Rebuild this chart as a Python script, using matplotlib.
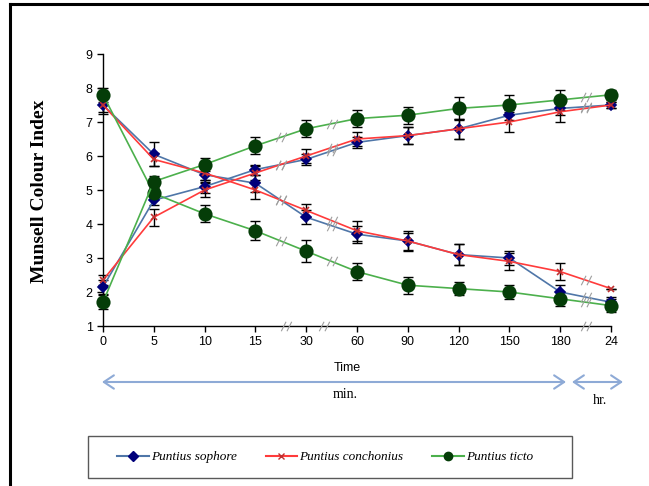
import numpy as np
import matplotlib as mpl
mpl.use('Agg')
import matplotlib.pyplot as plt
from matplotlib.lines import Line2D
from matplotlib.patches import Rectangle, FancyArrowPatch
from matplotlib.path import Path

mpl.rcParams['font.family'] = ['Liberation Sans', 'DejaVu Sans']

time_labels = ['0', '5', '10', '15', '30', '60', '90', '120', '150', '180', '24']

# each species was measured going down (pale -> dark) and up (dark -> pale)
sophore_down = [7.5, 6.05, 5.45, 5.2, 4.2, 3.7, 3.5, 3.1, 3.0, 2.0, 1.7]
sophore_down_err = [0.25, 0.35, 0.2, 0.25, 0.2, 0.25, 0.25, 0.3, 0.2, 0.2, 0.15]
sophore_up = [2.15, 4.7, 5.1, 5.6, 5.9, 6.4, 6.6, 6.8, 7.2, 7.4, 7.5]
sophore_up_err = [0.2, 0.15, 0.2, 0.15, 0.15, 0.15, 0.25, 0.3, 0.15, 0.2, 0.1]

conch_down = [7.5, 5.9, 5.5, 5.0, 4.4, 3.8, 3.5, 3.1, 2.9, 2.6, 2.1]
conch_down_err = [0.2, 0.2, 0.2, 0.25, 0.2, 0.3, 0.3, 0.3, 0.25, 0.25, 0.0]
conch_up = [2.35, 4.2, 5.0, 5.5, 6.0, 6.5, 6.6, 6.8, 7.0, 7.3, 7.5]
conch_up_err = [0.15, 0.25, 0.2, 0.2, 0.2, 0.2, 0.25, 0.3, 0.3, 0.3, 0.1]

ticto_down = [7.8, 4.9, 4.3, 3.8, 3.2, 2.6, 2.2, 2.1, 2.0, 1.8, 1.6]
ticto_down_err = [0.2, 0.15, 0.25, 0.28, 0.33, 0.25, 0.25, 0.2, 0.2, 0.2, 0.2]
ticto_up = [1.7, 5.25, 5.75, 6.3, 6.8, 7.1, 7.2, 7.4, 7.5, 7.65, 7.8]
ticto_up_err = [0.2, 0.15, 0.2, 0.25, 0.25, 0.25, 0.25, 0.33, 0.3, 0.3, 0.15]

x = np.arange(len(time_labels))

fig = plt.figure(figsize=(6.49, 4.86), dpi=100)
ax = fig.add_axes([103 / 649., 1 - 326 / 486., 508 / 649., 272 / 486.])

styles = [
    (sophore_down, sophore_down_err, '#4f76a8', 'D', '#00007a', 5.5),
    (sophore_up, sophore_up_err, '#4f76a8', 'D', '#00007a', 5.5),
    (conch_down, conch_down_err, '#ff3b3b', 'x', '#c03030', 5),
    (conch_up, conch_up_err, '#ff3b3b', 'x', '#c03030', 5),
    (ticto_down, ticto_down_err, '#4cb04c', 'o', '#053d08', 9),
    (ticto_up, ticto_up_err, '#4cb04c', 'o', '#053d08', 9),
]

# "//" break symbol as a marker
brk = Path([(-0.55, -0.5), (-0.05, 0.5), (0.05, -0.5), (0.55, 0.5)],
           [Path.MOVETO, Path.LINETO, Path.MOVETO, Path.LINETO])
brk_kw = dict(linestyle='none', marker=brk, markersize=7.5, markeredgecolor='0.62',
              markerfacecolor='none', markeredgewidth=0.8)

for vals, err, lc, mk, mc, ms in styles:
    ax.errorbar(x, vals, yerr=err, fmt='none', ecolor='black', elinewidth=1,
                capsize=3.5, capthick=1, zorder=2, clip_on=False)
    ax.plot(x, vals, color=lc, lw=1.2, marker=mk, markersize=ms, markerfacecolor=mc,
            markeredgecolor=mc, markeredgewidth=1.2, zorder=3, clip_on=False)
    # break marks on the line segments
    seg = [3, 4, 9]
    ax.plot([i + 0.5 for i in seg], [(vals[i] + vals[i + 1]) / 2. for i in seg], zorder=4, **brk_kw)

# break marks on the x axis
ax.plot([3.6, 4.35, 9.5], [1.0, 1.0, 1.0], clip_on=False, zorder=5, **brk_kw)

ax.set_xlim(0, 10)
ax.set_ylim(1, 9)
ax.set_xticks(x)
ax.set_xticklabels(time_labels)
ax.set_yticks(np.arange(1, 10))
ax.tick_params(direction='out', length=4, labelsize=9, width=1)
ax.spines['top'].set_visible(False)
ax.spines['right'].set_visible(False)
ax.spines['left'].set_linewidth(1)
ax.spines['bottom'].set_linewidth(1)

fig.text(40 / 649., 1 - 191 / 486., 'Munsell Colour Index', rotation=90, va='center',
         ha='center', size=14, weight='bold', family='Liberation Serif')
fig.text(347 / 649., 1 - 368 / 486., 'Time', ha='center', va='center', size=9)
fig.text(345 / 649., 1 - 394 / 486., 'min.', ha='center', va='center', size=10,
         family='Liberation Serif')
fig.text(600 / 649., 1 - 400 / 486., 'hr.', ha='center', va='center', size=10,
         family='Liberation Serif')

arrow_kw = dict(arrowstyle='<->,head_length=0.6,head_width=0.4', color='#8eaad6', lw=1.5,
                mutation_scale=12, shrinkA=0, shrinkB=0, transform=fig.transFigure)
fig.add_artist(FancyArrowPatch((102 / 649., 1 - 382 / 486.), (566 / 649., 1 - 382 / 486.), **arrow_kw))
fig.add_artist(FancyArrowPatch((572 / 649., 1 - 382 / 486.), (623 / 649., 1 - 382 / 486.), **arrow_kw))

# legend with its own frame
fig.add_artist(Rectangle((88 / 649., 1 - 478 / 486.), 484 / 649., 42 / 486.,
                         transform=fig.transFigure, facecolor='white', edgecolor='0.35', lw=1))
handles = [
    Line2D([], [], color='#4f76a8', marker='D', markersize=5, markerfacecolor='#00007a',
           markeredgecolor='#00007a'),
    Line2D([], [], color='#ff3b3b', marker='x', markersize=4, markeredgecolor='#c03030'),
    Line2D([], [], color='#4cb04c', marker='o', markersize=6, markerfacecolor='#053d08',
           markeredgecolor='#053d08'),
]
fig.legend(handles, ['Puntius sophore', 'Puntius conchonius', 'Puntius ticto'],
           loc='center', bbox_to_anchor=(325 / 649., 1 - 457 / 486.), ncol=3, frameon=False,
           handlelength=2.4, handletextpad=0.15, columnspacing=2.2,
           prop=dict(family='Liberation Serif', style='italic', size=9.5))

# page frame
fig.add_artist(Line2D([10 / 649., 10 / 649.], [0, 1 - 4 / 486.], transform=fig.transFigure,
                      color='black', lw=2.2))
fig.add_artist(Line2D([10 / 649., 1], [1 - 4 / 486., 1 - 4 / 486.], transform=fig.transFigure,
                      color='black', lw=2.2))

fig.savefig('out.png', dpi=100)
